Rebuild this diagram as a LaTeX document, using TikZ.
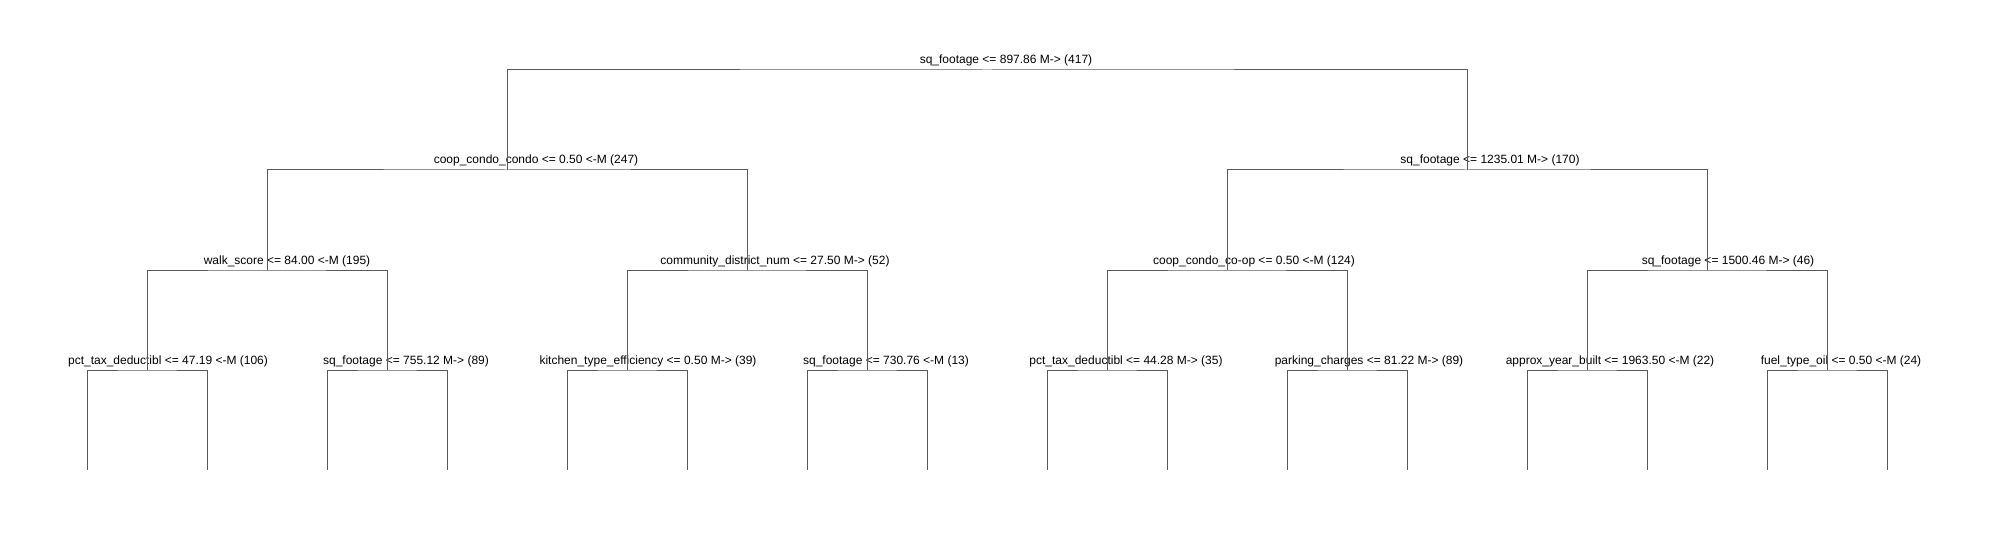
\documentclass[tikz,border=0pt]{standalone}
\usepackage{fontspec}
\setmainfont{Liberation Sans}
\usepackage{tikz}
\usetikzlibrary{positioning}
\tikzset{%
	split/.style={
		inner sep=0pt,
		minimum size=0pt
	},
	split-label/.style={
		anchor=base,
		inner sep=0pt,
		font=\fontsize{12}{13}\selectfont
	},
	edge/.style={
		draw=black!65,
		line width=1pt
	},
}

\begin{document}
\begin{tikzpicture}[x=1pt, y=-1pt]
\useasboundingbox (0,0) rectangle (1991,540);
% split points
\foreach \i in {1,...,16}
	\coordinate (leaf-\i) at (87+120*\i-120,470);
\foreach \i in {1,...,8}
	\coordinate (d4-\i) at (147+240*\i-240,370);
\foreach \i in {1,...,4}
	\coordinate (d3-\i) at (267+480*\i-480,270);
\foreach \i in {1,2}
	\coordinate (d2-\i) at (507+960*\i-960,170);
\coordinate (d1-1) at (987,70);

% split labels
\node[split-label] (lab-d1-1) at (1006,64) {sq\_footage <= 897.86 M-> (417)};
\foreach \x/\t [count=\i] in {536/coop\_condo\_condo <= 0.50 <-M (247),
		1490/sq\_footage <= 1235.01 M-> (170)}
	\node[split-label] (lab-d2-\i) at (\x,164) {\t};
\foreach \x/\t [count=\i] in {287/walk\_score <= 84.00 <-M (195),
		775/community\_district\_num <= 27.50 M-> (52),
		1254/coop\_condo\_co-op <= 0.50 <-M (124),
		1728/sq\_footage <= 1500.46 M-> (46)}
	\node[split-label] (lab-d3-\i) at (\x,264) {\t};
\foreach \x/\t [count=\i] in {168/pct\_tax\_deductibl <= 47.19 <-M (106),
		406/sq\_footage <= 755.12 M-> (89),
		648/kitchen\_type\_efficiency <= 0.50 M-> (39),
		886/sq\_footage <= 730.76 <-M (13),
		1126/pct\_tax\_deductibl <= 44.28 M-> (35),
		1369/parking\_charges <= 81.22 M-> (89),
		1610/approx\_year\_built <= 1963.50 <-M (22),
		1841/fuel\_type\_oil <= 0.50 <-M (24)}
	\node[split-label] (lab-d4-\i) at (\x,364) {\t};

% branches
\foreach \i in {1,...,8} {
	\pgfmathtruncatemacro\l{2*\i-1}
	\pgfmathtruncatemacro\r{2*\i}
	\draw[edge] (leaf-\l) |- (d4-\i) -| (leaf-\r);
}
\foreach \i in {1,...,4} {
	\pgfmathtruncatemacro\l{2*\i-1}
	\pgfmathtruncatemacro\r{2*\i}
	\draw[edge] (d4-\l) |- (d3-\i) -| (d4-\r);
}
\foreach \i in {1,2} {
	\pgfmathtruncatemacro\l{2*\i-1}
	\pgfmathtruncatemacro\r{2*\i}
	\draw[edge] (d3-\l) |- (d2-\i) -| (d3-\r);
}
\draw[edge] (d2-1) |- (d1-1) -| (d2-2);

\end{tikzpicture}
\end{document}
